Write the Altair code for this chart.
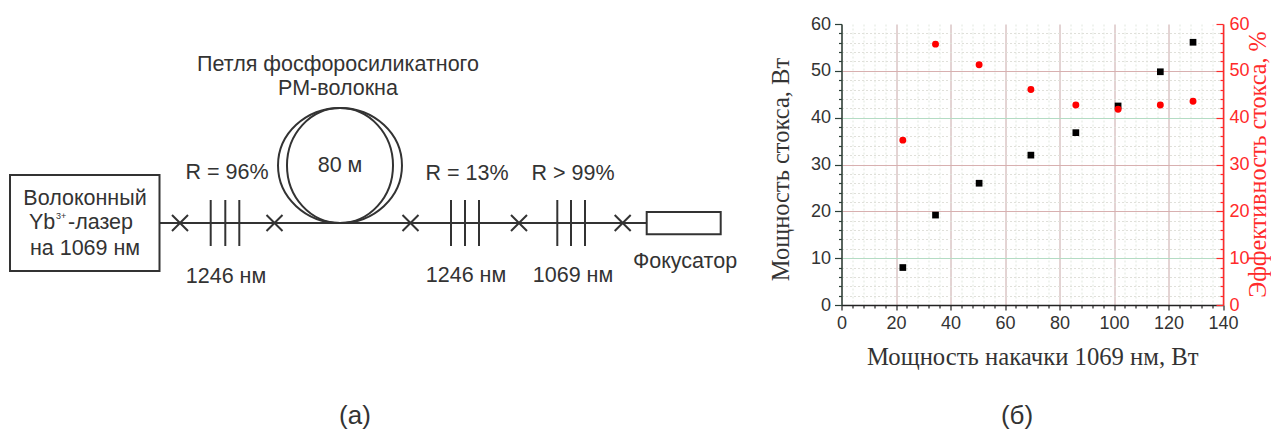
import altair as alt
import pandas as pd

# ---- measurement panel values ----
pump = [22.5, 34.5, 50.5, 69.5, 86, 101.5, 117, 129]
stokes_power = [8, 19.2, 26, 32, 36.8, 42.5, 49.8, 56.1]
stokes_eff = [35.2, 55.7, 51.3, 46, 42.7, 41.8, 42.7, 43.5]
x_ticks = list(range(0, 141, 4))
y_ticks = list(range(0, 61, 2))

# ---- schematic values (diagram units) ----
splices_x = [180, 274.5, 410.5, 519, 622.7]
grating_x = [210.7, 225.3, 239.3, 451, 465, 479, 557.3, 571, 585]
fibre_axis = 222
grating_y = [199, 245]
fibre_x = [160, 647]
box_x = [10, 646.7]
box_x2 = [159.5, 720.7]
box_y = [174, 211]
box_y2 = [270, 233.3]
loop_centre = [340, 164.5]
sch_labels = ["Петля фосфоросиликатного", "РМ-волокна", "80 м", "R = 96%", "1246 нм", "Волоконный",
              "на 1069 нм", "R = 13%", "R > 99%", "1246 нм", "1069 нм", "Фокусатор"]
sch_label_x = [338, 338, 340, 227, 226, 85, 85, 467, 573, 466, 573, 685]
sch_label_y = [64, 88, 165, 172, 276, 198, 248, 173, 173, 275, 275, 261]
panel_labels = ["(а)", "(б)"]
panel_label_x = [355, 1017]
panel_label_y = [415, 415]

INK = "#333333"
SANS = "Liberation Sans"
SERIF = "Liberation Serif"
L_W, R_W, H = 800, 381.5, 281

sx = alt.Scale(domain=[8, 8 + L_W], range=[0, L_W], clamp=False)
sy = alt.Scale(domain=[23, 23 + H], range=[0, H], clamp=False)
X = lambda f: alt.X(f, type="quantitative", scale=sx, axis=None)
Y = lambda f: alt.Y(f, type="quantitative", scale=sy, axis=None)

line_df = pd.DataFrame({"x": [fibre_x[0]], "x2": [fibre_x[1]], "y": [fibre_axis]})
fibre = alt.Chart(line_df).mark_rule(color=INK, strokeWidth=2).encode(
    x=X("x"), x2="x2", y=Y("y"))

grat_df = pd.DataFrame({"x": grating_x, "y": grating_y[0], "y2": grating_y[1]})
gratings = alt.Chart(grat_df).mark_rule(color=INK, strokeWidth=2).encode(
    x=X("x"), y=Y("y"), y2="y2")

box_df = pd.DataFrame({"x": box_x, "x2": box_x2, "y": box_y, "y2": box_y2})
boxes = alt.Chart(box_df).mark_rect(fill="white", stroke=INK, strokeWidth=2).encode(
    x=X("x"), x2="x2", y=Y("y"), y2="y2")

cross_df = pd.DataFrame({"x": splices_x, "y": fibre_axis})
crosses = alt.Chart(cross_df).mark_point(
    shape="M-1,-1L1,1M-1,1L1,-1", size=256, color=INK, strokeWidth=2, opacity=1
).encode(x=X("x"), y=Y("y"))

loop_df = pd.DataFrame({"x": [loop_centre[0]], "y": [loop_centre[1]]})
def ellipse(rx):
    return f"M{-rx},0A{rx},1 0 1 1 {rx},0A{rx},1 0 1 1 {-rx},0Z"
loops = [alt.Chart(loop_df).mark_point(shape=ellipse(r), size=115 ** 2, color=INK, strokeWidth=2,
                                       filled=False, opacity=1).encode(x=X("x"), y=Y("y"))
         for r in (1.078, 0.922)]

text_df = pd.DataFrame({"t": sch_labels, "x": sch_label_x, "y": sch_label_y})
texts = alt.Chart(text_df).mark_text(font=SANS, fontSize=21.5, color=INK, align="center", baseline="middle").encode(
    x=X("x"), y=Y("y"), text="t")

panel_df = pd.DataFrame({"t": panel_labels, "x": panel_label_x, "y": panel_label_y})
panels = alt.Chart(panel_df).mark_text(font=SANS, fontSize=26, color=INK, align="center", baseline="middle").encode(
    x=X("x"), y=Y("y"), text="t")

sup_df = pd.DataFrame({"t": ["Yb", "-лазер"], "x": [29, 68], "y": [222, 222]})
yb = alt.Chart(sup_df).mark_text(font=SANS, fontSize=21.5, color=INK, align="left", baseline="middle").encode(
    x=X("x"), y=Y("y"), text="t")
sup3 = alt.Chart(pd.DataFrame({"t": ["3+"], "x": [56], "y": [215]})).mark_text(
    font=SANS, fontSize=9, color=INK, align="left", baseline="middle").encode(
    x=X("x"), y=Y("y"), text="t")

left = alt.layer(fibre, gratings, boxes, crosses, *loops, texts, panels, yb, sup3).properties(width=L_W, height=H)

df = pd.DataFrame({"pump": pump, "power": stokes_power, "eff": stokes_eff})

x_axis = alt.Axis(
    title="Мощность накачки 1069 нм, Вт", values=x_ticks, format="d",
    labelExpr="datum.value%20===0?datum.label:''", labelOverlap=False, labelFlush=False,
    labelFont=SANS, labelFontSize=18, labelColor=INK, labelPadding=4,
    titleFont=SERIF, titleFontSize=24.7, titleFontWeight="normal", titleColor=INK, titlePadding=12,
    domainColor="#222222", domainWidth=1.5, tickColor="#222222", tickWidth=1.2,
    tickSize={"expr": "datum.value%20===0?5:3"},
    grid=True,
    gridColor={"expr": "datum.value%20===0?'#c8a8a8':'#e0e7dd'"},
    gridDash={"expr": "datum.value%20===0?[]:[2,2]"},
    gridWidth=1,
)
yl_axis = alt.Axis(
    title="Мощность стокса, Вт", values=y_ticks, format="d", orient="left",
    labelExpr="datum.value%10===0?datum.label:''", labelOverlap=False, labelFlush=False,
    labelFont=SANS, labelFontSize=18, labelColor=INK, labelPadding=4,
    titleFont=SERIF, titleFontSize=24.5, titleFontWeight="normal", titleColor=INK, titlePadding=17, titleY=145,
    domainColor="#2c4038", domainWidth=1.5, tickColor="#2c4038", tickWidth=1.2,
    tickSize={"expr": "datum.value%10===0?7:3"},
    grid=True,
    gridColor={"expr": "datum.value===10||datum.value===40?'#b4dcc4':(datum.value%10===0?'#d8b0b0':'#e0e0da')"},
    gridDash={"expr": "datum.value%10===0?[]:[2,2]"},
    gridOpacity={"expr": "datum.value===60?0:1"},
    gridWidth=1,
)
RED = "#ff2a2a"
yr_axis = alt.Axis(
    title="Эффективность стокса, %", values=y_ticks, format="d", orient="right",
    labelExpr="datum.value%10===0?datum.label:''", labelOverlap=False, labelFlush=False,
    labelFont=SANS, labelFontSize=18, labelColor=RED, labelPadding=13,
    titleFont=SERIF, titleFontSize=24.2, titleFontWeight="normal", titleColor=RED, titlePadding=21, titleAngle=270, titleY=140,
    domainColor=RED, domainWidth=1.5, tickColor=RED, tickWidth=1.2,
    tickSize={"expr": "datum.value%10===0?-7:-3"},
    grid=False,
)

x_enc = alt.X("pump:Q", scale=alt.Scale(domain=[0, 140], nice=False), axis=x_axis)
power = alt.Chart(df).mark_square(color="black", size=45, opacity=1).encode(
    x=x_enc, y=alt.Y("power:Q", scale=alt.Scale(domain=[0, 60], nice=False), axis=yl_axis))
eff = alt.Chart(df).mark_circle(color="#ff0000", size=48, opacity=1).encode(
    x=x_enc, y=alt.Y("eff:Q", scale=alt.Scale(domain=[0, 60], nice=False), axis=yr_axis))
right = alt.layer(power, eff).resolve_scale(y="independent").properties(width=R_W, height=H)

chart = alt.hconcat(left, right, spacing=33.5, bounds="flush").properties(
    padding={"left": 0, "top": 7, "right": 0, "bottom": 0}, background="white"
).configure_view(stroke=None)

chart.save("out.html", embed_options={"renderer": "svg", "actions": False})
